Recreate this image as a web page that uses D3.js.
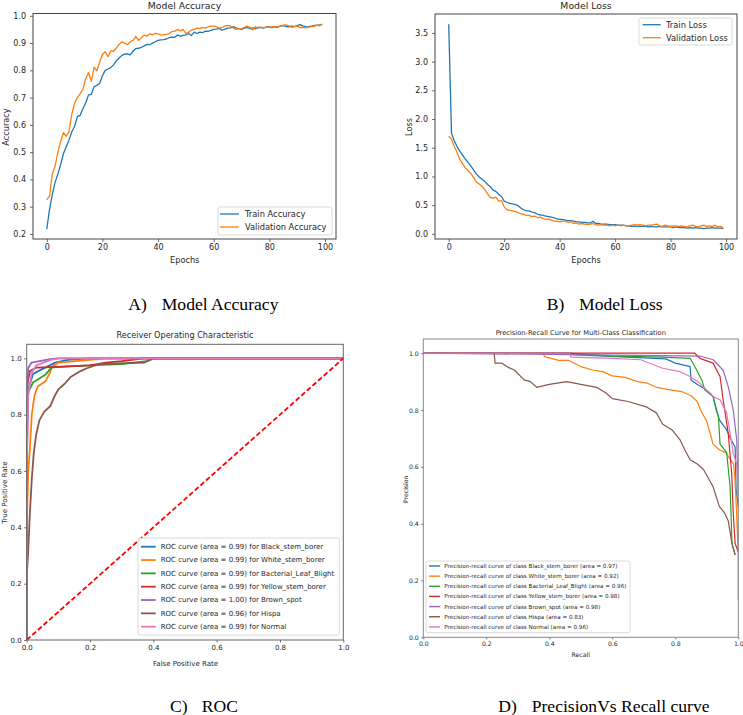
<!DOCTYPE html>
<html><head><meta charset="utf-8">
<script src="https://cdn.jsdelivr.net/npm/d3@7"></script>
<style>body{margin:0;background:#fff}svg{display:block}</style>
</head><body>
<script>
// ---------- DATA ----------
const trainAcc = [0.218,0.29,0.345,0.39,0.42,0.455,0.495,0.52,0.545,0.575,
0.595,0.63,0.635,0.66,0.68,0.71,0.712,0.74,0.745,0.752,
0.78,0.80,0.805,0.81,0.82,0.835,0.845,0.855,0.86,0.86,
0.857,0.87,0.88,0.881,0.884,0.89,0.895,0.894,0.90,0.905,
0.91,0.912,0.913,0.915,0.92,0.922,0.921,0.93,0.925,0.928,
0.93,0.935,0.928,0.94,0.935,0.94,0.938,0.944,0.943,0.947,
0.95,0.951,0.954,0.947,0.951,0.955,0.956,0.96,0.956,0.953,
0.95,0.955,0.958,0.953,0.956,0.952,0.958,0.957,0.955,0.96,
0.959,0.957,0.96,0.958,0.963,0.964,0.961,0.959,0.962,0.96,
0.964,0.968,0.963,0.96,0.959,0.962,0.964,0.966,0.967,0.969];
const valAcc = [0.325,0.34,0.42,0.45,0.50,0.54,0.572,0.558,0.575,0.64,
0.68,0.70,0.715,0.73,0.77,0.792,0.76,0.812,0.798,0.83,
0.858,0.868,0.85,0.872,0.87,0.882,0.895,0.905,0.90,0.894,
0.905,0.91,0.925,0.91,0.92,0.93,0.925,0.934,0.93,0.936,
0.934,0.93,0.93,0.932,0.935,0.942,0.944,0.95,0.945,0.95,
0.935,0.94,0.948,0.95,0.955,0.953,0.958,0.955,0.96,0.962,
0.962,0.96,0.955,0.958,0.962,0.965,0.963,0.955,0.95,0.952,
0.953,0.958,0.962,0.958,0.948,0.96,0.955,0.958,0.957,0.959,
0.958,0.96,0.958,0.96,0.962,0.966,0.967,0.963,0.958,0.96,
0.962,0.957,0.958,0.956,0.958,0.96,0.961,0.966,0.963,0.97];
const trainLoss = [3.65,1.75,1.62,1.52,1.44,1.37,1.30,1.24,1.18,1.11,
1.04,0.99,0.95,0.91,0.86,0.82,0.76,0.74,0.69,0.65,
0.57,0.55,0.53,0.52,0.51,0.49,0.45,0.42,0.40,0.40,
0.38,0.37,0.34,0.33,0.32,0.31,0.30,0.29,0.28,0.26,
0.25,0.25,0.24,0.23,0.23,0.22,0.21,0.21,0.20,0.20,
0.19,0.19,0.22,0.18,0.18,0.17,0.17,0.17,0.16,0.16,
0.16,0.15,0.15,0.15,0.14,0.14,0.13,0.13,0.14,0.13,
0.13,0.13,0.12,0.13,0.12,0.12,0.13,0.12,0.12,0.12,
0.12,0.11,0.12,0.11,0.11,0.11,0.10,0.11,0.10,0.11,
0.10,0.10,0.09,0.10,0.10,0.11,0.10,0.10,0.10,0.09];
const valLoss = [1.70,1.65,1.52,1.42,1.30,1.22,1.15,1.10,1.05,0.98,
0.90,0.87,0.83,0.77,0.70,0.63,0.62,0.64,0.57,0.58,
0.47,0.42,0.41,0.40,0.39,0.37,0.35,0.34,0.32,0.32,
0.30,0.31,0.28,0.29,0.27,0.25,0.26,0.24,0.22,0.22,
0.21,0.22,0.22,0.20,0.21,0.18,0.19,0.17,0.18,0.17,
0.16,0.17,0.18,0.16,0.15,0.16,0.15,0.15,0.14,0.15,
0.14,0.15,0.14,0.15,0.14,0.14,0.15,0.16,0.15,0.16,
0.15,0.14,0.15,0.15,0.16,0.17,0.14,0.13,0.15,0.14,
0.13,0.14,0.14,0.13,0.14,0.13,0.12,0.14,0.15,0.13,
0.12,0.14,0.15,0.13,0.14,0.13,0.15,0.12,0.13,0.10];

const epochTicks = [0,20,40,60,80,100];
const accTicks = [0.2,0.3,0.4,0.5,0.6,0.7,0.8,0.9,1.0];
const lossTicks = [0.0,0.5,1.0,1.5,2.0,2.5,3.0,3.5];
const unitTicks = [0.0,0.2,0.4,0.6,0.8,1.0];

const classNames = ["Black_stem_borer","White_stem_borer","Bacterial_Leaf_Blight","Yellow_stem_borer","Brown_spot","Hispa","Normal"];
const rocAuc = ["0.99","0.99","0.99","0.99","1.00","0.96","0.99"];
const prAuc = ["0.97","0.92","0.96","0.98","0.98","0.83","0.96"];
const classColors = ["#1f77b4","#ff7f0e","#2ca02c","#d62728","#9467bd","#8c564b","#e377c2"];

// ROC points [fpr, tpr]
const rocBlack = [[0,0],[0,0.6],[0.003,0.8],[0.005,0.89],[0.02,0.945],[0.06,0.968],[0.09,0.985],[0.13,0.995],[0.2,1.0],[1,1]];
const rocWhite = [[0,0],[0,0.4],[0.005,0.6],[0.01,0.68],[0.016,0.8],[0.025,0.87],[0.035,0.9],[0.06,0.92],[0.074,0.95],[0.08,0.97],[0.1,0.985],[0.2,0.995],[0.25,1.0],[1,1]];
const rocBacterial = [[0,0],[0,0.7],[0.003,0.85],[0.005,0.88],[0.02,0.915],[0.035,0.925],[0.06,0.943],[0.078,0.967],[0.1,0.97],[0.2,0.975],[0.3,0.98],[0.38,0.99],[0.4,1.0],[1,1]];
const rocYellow = [[0,0],[0,0.88],[0.002,0.907],[0.01,0.955],[0.03,0.967],[0.1,0.97],[0.2,0.975],[0.25,0.985],[0.3,0.99],[0.37,1.0],[1,1]];
const rocBrown = [[0,0],[0,0.85],[0.005,0.967],[0.0155,0.985],[0.04,0.99],[0.074,0.997],[0.1,1.0],[1,1]];
const rocHispa = [[0,0],[0,0.22],[0.005,0.32],[0.01,0.45],[0.016,0.57],[0.022,0.66],[0.03,0.73],[0.04,0.78],[0.055,0.81],[0.074,0.83],[0.09,0.87],[0.1,0.89],[0.12,0.91],[0.14,0.935],[0.17,0.955],[0.19,0.965],[0.23,0.98],[0.37,0.985],[0.4,1.0],[1,1]];
const rocNormal = [[0,0],[0,0.6],[0.005,0.87],[0.016,0.95],[0.03,0.975],[0.074,0.994],[0.1,1.0],[1,1]];

// PR points [recall, precision]
const prBlack = [[0,1],[0.465,1.0],[0.47,0.995],[0.77,0.98],[0.80,0.965],[0.847,0.953],[0.85,0.906],[0.87,0.89],[0.89,0.877],[0.91,0.86],[0.92,0.847],[0.93,0.8],[0.94,0.765],[0.963,0.73],[0.975,0.7],[0.99,0.67],[0.993,0.52],[1.0,0.46]];
const prWhite = [[0,1],[0.38,1.0],[0.385,0.988],[0.43,0.975],[0.46,0.975],[0.5,0.953],[0.54,0.94],[0.57,0.935],[0.6,0.92],[0.64,0.915],[0.68,0.9],[0.71,0.895],[0.74,0.88],[0.79,0.87],[0.82,0.865],[0.85,0.85],[0.87,0.83],[0.88,0.8],[0.9,0.76],[0.91,0.72],[0.92,0.68],[0.94,0.66],[0.96,0.65],[0.985,0.61],[0.99,0.55],[1.0,0.3]];
const prBacterial = [[0,1],[0.46,1.0],[0.6,0.99],[0.76,0.986],[0.847,0.982],[0.862,0.953],[0.884,0.906],[0.894,0.87],[0.92,0.847],[0.937,0.777],[0.942,0.68],[0.963,0.65],[0.974,0.53],[0.98,0.33],[0.99,0.29]];
const prYellow = [[0,1],[0.862,1.0],[0.878,0.982],[0.92,0.965],[0.942,0.918],[0.952,0.836],[0.968,0.718],[0.979,0.577],[0.984,0.436],[0.99,0.33],[1.0,0.3]];
const prBrownSpot = [[0,1],[0.47,0.995],[0.878,0.99],[0.92,0.977],[0.952,0.94],[0.968,0.883],[0.984,0.8],[0.995,0.695],[1.0,0.48],[1.0,0.13]];
const prHispa = [[0,1],[0.225,1.0],[0.228,0.965],[0.25,0.965],[0.27,0.95],[0.29,0.94],[0.32,0.906],[0.34,0.9],[0.36,0.88],[0.4,0.89],[0.455,0.9],[0.5,0.89],[0.55,0.88],[0.58,0.86],[0.6,0.84],[0.65,0.83],[0.71,0.81],[0.74,0.79],[0.76,0.75],[0.79,0.73],[0.815,0.695],[0.83,0.66],[0.847,0.625],[0.87,0.61],[0.89,0.59],[0.92,0.53],[0.94,0.46],[0.955,0.44],[0.968,0.41],[0.98,0.33],[0.99,0.29]];
const prNormal = [[0,1],[0.465,1.0],[0.468,0.986],[0.6,0.982],[0.69,0.977],[0.76,0.947],[0.815,0.935],[0.847,0.918],[0.878,0.894],[0.92,0.847],[0.942,0.836],[0.963,0.79],[0.974,0.718],[0.984,0.648],[0.995,0.61],[1.0,0.5]];

const rocSets = [rocBlack, rocWhite, rocBacterial, rocYellow, rocBrown, rocHispa, rocNormal];
const prSets = [prBlack, prWhite, prBacterial, prYellow, prBrownSpot, prHispa, prNormal];

// ---------- DRAW ----------
const W = 743, H = 715;
const FONT = "DejaVu Sans";
const TXT = "#262626";
const svg = d3.select("body").append("svg").attr("width", W).attr("height", H);

function panel(o) {
  const g = svg.append("g");
  const x = d3.scaleLinear().domain(o.xDomain).range([o.l, o.r]);
  const y = d3.scaleLinear().domain(o.yDomain).range([o.b, o.t]);
  const clipId = "clip" + Math.round(o.l) + "_" + Math.round(o.t);
  svg.append("clipPath").attr("id", clipId).append("rect")
    .attr("x", o.l).attr("y", o.t).attr("width", o.r - o.l).attr("height", o.b - o.t);
  const sg = g.append("g").attr("clip-path", "url(#" + clipId + ")");
  const line = d3.line().x(d => x(d[0])).y(d => y(d[1]));
  o.series.forEach(s => {
    sg.append("path").attr("d", line(s.pts)).attr("fill", "none")
      .attr("stroke", s.color).attr("stroke-width", s.w)
      .attr("stroke-dasharray", s.dash || null)
      .attr("stroke-linejoin", "round");
  });
  const xa = g.append("g").attr("transform", `translate(0,${o.b})`)
    .call(d3.axisBottom(x).tickValues(o.xTicks).tickFormat(o.xFmt).tickSize(o.tick).tickPadding(o.xPad));
  const ya = g.append("g").attr("transform", `translate(${o.l},0)`)
    .call(d3.axisLeft(y).tickValues(o.yTicks).tickFormat(o.yFmt).tickSize(o.tick).tickPadding(o.yPad));
  [xa, ya].forEach(a => {
    a.select(".domain").remove();
    a.selectAll("line").attr("stroke", "#444").attr("stroke-width", 0.8);
    a.selectAll("text").attr("font-family", FONT).attr("font-size", o.fs).attr("fill", TXT);
  });
  g.append("rect").attr("x", o.l).attr("y", o.t).attr("width", o.r - o.l).attr("height", o.b - o.t)
    .attr("fill", "none").attr("stroke", o.frame || "#444").attr("stroke-width", 1);
  g.append("text").attr("x", (o.l + o.r) / 2).attr("y", o.titleY).attr("text-anchor", "middle")
    .attr("font-family", FONT).attr("font-size", o.titleFs).attr("fill", TXT).text(o.title);
  g.append("text").attr("x", o.xLabelX).attr("y", o.xLabelY).attr("text-anchor", "middle")
    .attr("font-family", FONT).attr("font-size", o.labelFs).attr("fill", TXT).text(o.xLabel);
  g.append("text").attr("transform", `translate(${o.yLabelX},${o.yLabelY}) rotate(-90)`).attr("text-anchor", "middle")
    .attr("font-family", FONT).attr("font-size", o.labelFs).attr("fill", TXT).text(o.yLabel);
  const L = o.legend;
  g.append("rect").attr("x", L.x0).attr("y", L.y0).attr("width", L.x1 - L.x0).attr("height", L.y1 - L.y0)
    .attr("rx", 2).attr("fill", "#fff").attr("fill-opacity", 0.85).attr("stroke", "#d0d0d0").attr("stroke-width", 0.8);
  L.items.forEach((it, i) => {
    const yy = L.row0 + i * L.rowH;
    g.append("line").attr("x1", L.lx0).attr("x2", L.lx1).attr("y1", yy).attr("y2", yy)
      .attr("stroke", it.color).attr("stroke-width", L.lw);
    g.append("text").attr("x", L.tx).attr("y", yy).attr("dy", "0.35em")
      .attr("font-family", FONT).attr("font-size", L.fs).attr("fill", TXT).text(it.label);
  });
}

const f1 = d3.format(".1f");
const fInt = d3.format("d");

// A: Model Accuracy
panel({
  l: 33, r: 336, t: 13.5, b: 239,
  xDomain: [-4.95, 103.95], yDomain: [0.1815, 1.0085],
  xTicks: epochTicks, yTicks: accTicks, xFmt: fInt, yFmt: f1,
  tick: 3, xPad: 2.5, yPad: 4, fs: 8,
  title: "Model Accuracy", titleY: 8.5, titleFs: 9.3,
  xLabel: "Epochs", xLabelX: 184.7, xLabelY: 263, yLabel: "Accuracy", yLabelX: 8.8, yLabelY: 127, labelFs: 8.2,
  series: [
    {pts: trainAcc.map((v, i) => [i, v]), color: classColors[0], w: 1.3},
    {pts: valAcc.map((v, i) => [i, v]), color: classColors[1], w: 1.3}
  ],
  legend: {x0: 218, x1: 332, y0: 207, y1: 235, row0: 214, rowH: 13, lx0: 220, lx1: 239, tx: 245, fs: 8.3, lw: 1.3,
    items: [{label: "Train Accuracy", color: classColors[0]}, {label: "Validation Accuracy", color: classColors[1]}]}
});

// B: Model Loss
panel({
  l: 435, r: 737, t: 14, b: 239,
  xDomain: [-4.95, 103.95], yDomain: [-0.09, 3.83],
  xTicks: epochTicks, yTicks: lossTicks, xFmt: fInt, yFmt: f1,
  tick: 3, xPad: 2.5, yPad: 4, fs: 8,
  title: "Model Loss", titleY: 8.5, titleFs: 9.3,
  xLabel: "Epochs", xLabelX: 586, xLabelY: 263, yLabel: "Loss", yLabelX: 412, yLabelY: 127, labelFs: 8.2,
  series: [
    {pts: trainLoss.map((v, i) => [i, v]), color: classColors[0], w: 1.3},
    {pts: valLoss.map((v, i) => [i, v]), color: classColors[1], w: 1.3}
  ],
  legend: {x0: 639, x1: 732, y0: 18, y1: 45, row0: 24.7, rowH: 13, lx0: 642.7, lx1: 660.7, tx: 666, fs: 8.3, lw: 1.3,
    items: [{label: "Train Loss", color: classColors[0]}, {label: "Validation Loss", color: classColors[1]}]}
});

// C: ROC
const rocSeries = rocSets.map((pts, i) => ({pts, color: classColors[i], w: 1.8}));
rocSeries.push({pts: [[0, 0], [1, 1]], color: "#ff0000", w: 1.8, dash: "5,2.5"});
panel({
  l: 26.7, r: 343.3, t: 344.3, b: 640,
  xDomain: [0, 1], yDomain: [0, 1.05],
  xTicks: unitTicks, yTicks: unitTicks, xFmt: f1, yFmt: f1,
  tick: 2.5, xPad: 3, yPad: 2.5, fs: 7,
  title: "Receiver Operating Characteristic", titleY: 337.5, titleFs: 8.1,
  xLabel: "False Positive Rate", xLabelX: 185.5, xLabelY: 665.5, yLabel: "True Positive Rate", yLabelX: 6.5, yLabelY: 492.7, labelFs: 7,
  frame: "#666",
  series: rocSeries,
  legend: {x0: 138, x1: 339.3, y0: 538, y1: 635, row0: 546.7, rowH: 13.33, lx0: 141, lx1: 155.7, tx: 160.7, fs: 7, lw: 1.8,
    items: classNames.map((c, i) => ({label: `ROC curve (area = ${rocAuc[i]}) for ${c}`, color: classColors[i]}))}
});

// D: Precision-Recall
panel({
  l: 423.3, r: 738.3, t: 339, b: 637.3,
  xDomain: [0, 1], yDomain: [0, 1.05],
  xTicks: unitTicks, yTicks: unitTicks, xFmt: f1, yFmt: f1,
  tick: 2, xPad: 2, yPad: 2.5, fs: 6.2,
  title: "Precision-Recall Curve for Multi-Class Classification", titleY: 334.5, titleFs: 6.7,
  xLabel: "Recall", xLabelX: 580.7, xLabelY: 656.5, yLabel: "Precision", yLabelX: 407.5, yLabelY: 489.3, labelFs: 6.2,
  frame: "#888",
  series: prSets.map((pts, i) => ({pts, color: classColors[i], w: 1.2})),
  legend: {x0: 426, x1: 630, y0: 561, y1: 632.7, row0: 566, rowH: 10.15, lx0: 429, lx1: 440, tx: 444.3, fs: 5.6, lw: 1.4,
    items: classNames.map((c, i) => ({label: `Precision-recall curve of class ${c} (area = ${prAuc[i]})`, color: classColors[i]}))}
});

// Captions
const CAP = "Liberation Serif";
const captions = [
  {x: 128.3, y: 309.5, t: "A)"}, {x: 161.7, y: 309.5, t: "Model Accuracy"},
  {x: 546.7, y: 309.5, t: "B)"}, {x: 579, y: 309.5, t: "Model Loss"},
  {x: 170, y: 711.5, t: "C)"}, {x: 201.7, y: 711.5, t: "ROC"},
  {x: 498.3, y: 711.5, t: "D)"}, {x: 531.7, y: 711.5, t: "PrecisionVs Recall curve"}
];
svg.append("g").selectAll("text").data(captions).join("text")
  .attr("x", d => d.x).attr("y", d => d.y)
  .attr("font-family", CAP).attr("font-size", 17.6).attr("fill", "#000").text(d => d.t);
</script>
</body></html>
